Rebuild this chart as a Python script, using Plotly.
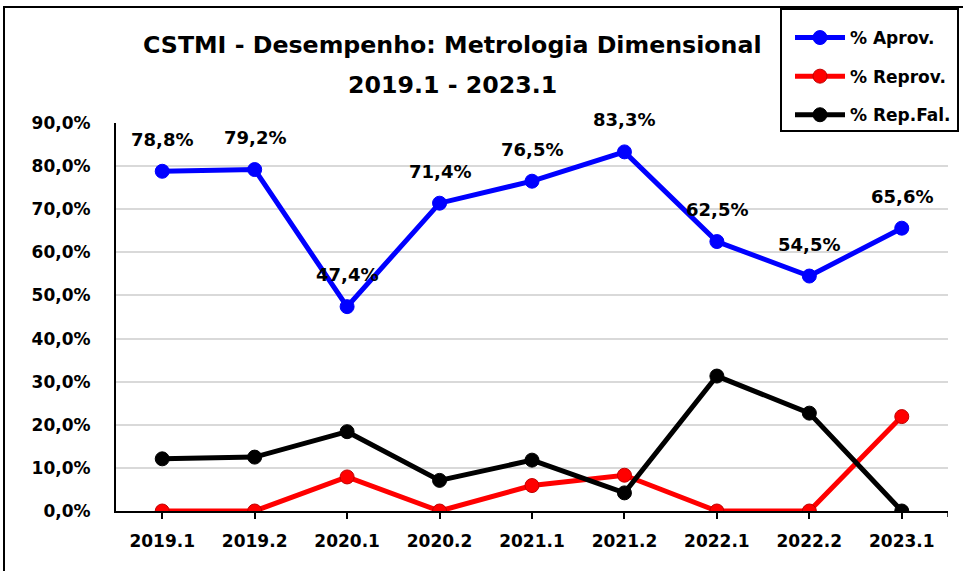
import plotly.graph_objects as go

categories = ["2019.1", "2019.2", "2020.1", "2020.2", "2021.1", "2021.2", "2022.1", "2022.2", "2023.1"]
aprov = [0.788, 0.792, 0.474, 0.714, 0.765, 0.833, 0.625, 0.545, 0.656]
reprov = [0.0, 0.0, 0.079, 0.0, 0.059, 0.083, 0.0, 0.0, 0.219]
repfal = [0.121, 0.125, 0.184, 0.071, 0.118, 0.042, 0.313, 0.227, 0.0]
y_ticks = [0.0, 0.1, 0.2, 0.3, 0.4, 0.5, 0.6, 0.7, 0.8, 0.9]

FONT = "DejaVu Sans"

fig = go.Figure()
series = [
    ("% Aprov.", aprov, "#0000FF", "#0000FF"),
    ("% Reprov.", reprov, "#FF0000", "#C00000"),
    ("% Rep.Fal.", repfal, "#000000", "#000000"),
]
for name, vals, col, edge in series:
    fig.add_trace(go.Scatter(
        x=categories, y=vals, name=f"<b>{name}</b>", mode="lines+markers",
        line=dict(color=col, width=5),
        marker=dict(size=14, color=col, line=dict(color=edge, width=1)),
        legendgroup=name,
    ))

def fmt(v):
    return f"{v*100:.1f}%".replace(".", ",")

def px(X):
    return (X - 116) / 832

def py(Y):
    return (511 - Y) / 388

annotations = []
for i, v in enumerate(aprov):
    annotations.append(dict(
        x=i, y=v, xref="x", yref="y", text=f"<b>{fmt(v)}</b>", showarrow=False,
        yshift=32, font=dict(family=FONT, size=18, color="black"),
    ))

# Title as two lines
annotations.append(dict(
    x=px(452), y=py(45), xref="paper", yref="paper",
    text="<b>CSTMI - Desempenho: Metrologia Dimensional</b>", showarrow=False,
    xanchor="center", yanchor="middle", font=dict(family=FONT, size=23.7, color="black"),
))
annotations.append(dict(
    x=px(452), y=py(85), xref="paper", yref="paper",
    text="<b>2019.1 - 2023.1</b>", showarrow=False,
    xanchor="center", yanchor="middle", font=dict(family=FONT, size=23.7, color="black"),
))

shapes = [
    # outer chart border
    dict(type="rect", xref="paper", yref="paper",
         x0=px(4), x1=px(990), y0=py(600), y1=py(7),
         line=dict(color="black", width=2), fillcolor="rgba(0,0,0,0)", layer="below"),
    # legend box
    dict(type="rect", xref="paper", yref="paper",
         x0=px(781), x1=px(958), y0=py(131), y1=py(9),
         line=dict(color="black", width=2), fillcolor="white", layer="above"),
    # right-end tick of category axis
    dict(type="line", xref="x", yref="paper", x0=8.5, x1=8.5,
         y0=0, y1=-6 / 388, line=dict(color="black", width=1.5)),
]

fig.update_layout(
    width=963, height=571,
    margin=dict(l=116, r=15, t=123, b=60, autoexpand=False),
    paper_bgcolor="white", plot_bgcolor="white",
    separators=",.",
    font=dict(family=FONT, size=17, color="black"),
    showlegend=True,
    legend=dict(
        x=px(790), y=py(20), xanchor="left", yanchor="top",
        bgcolor="rgba(0,0,0,0)", borderwidth=0,
        font=dict(family=FONT, size=17, color="black"),
        traceorder="grouped", tracegroupgap=13.5, itemwidth=50,
    ),
    annotations=annotations,
    shapes=shapes,
)
fig.update_xaxes(
    type="category", range=[-0.5, 8.5],
    showline=True, linecolor="black", linewidth=2,
    ticks="outside", ticklen=6, tickwidth=1.5, tickcolor="black",
    tickfont=dict(family=FONT, size=17, color="black", weight="bold"),
    ticklabelstandoff=8,
    showgrid=False,
)
fig.update_yaxes(
    range=[0, 0.9], tickvals=y_ticks, tickformat=".1%",
    showline=True, linecolor="black", linewidth=2,
    showgrid=True, gridcolor="#D9D9D9", gridwidth=1.5,
    tickfont=dict(family=FONT, size=17, color="black", weight="bold"),
    ticks="", ticklabelstandoff=20, zeroline=False,
)

fig.write_html("out.html", config={"displayModeBar": False},
               post_script="document.body.style.margin='0';")
